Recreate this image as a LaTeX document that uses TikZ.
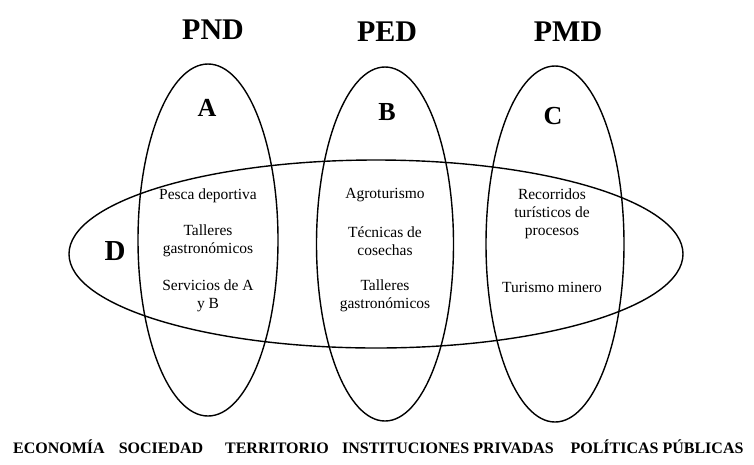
\documentclass[tikz,border=0pt]{standalone}
\usepackage{fontspec}
\setmainfont{Liberation Serif}
\usetikzlibrary{shapes.geometric}

\begin{document}
\begin{tikzpicture}[x=1pt, y=-1pt, line width=1.4pt]

% Styles
\tikzstyle{set} = [draw, ellipse, inner sep=0pt]
\tikzstyle{policy} = [font=\fontsize{30}{32}\selectfont\bfseries]
\tikzstyle{letter} = [font=\fontsize{26}{28}\selectfont\bfseries]
\tikzstyle{item} = [align=center, inner sep=0pt, font=\fontsize{15.5}{18}\selectfont]
\tikzstyle{axis} = [anchor=base, inner sep=0pt, font=\fontsize{16}{18}\selectfont\bfseries]

\useasboundingbox (0,0) rectangle (754,464);

% Sets
\node[set, minimum width=140pt, minimum height=352pt] (setA) at (208,240) {};
\node[set, minimum width=137pt, minimum height=354pt] (setB) at (385,244) {};
\node[set, minimum width=138pt, minimum height=356pt] (setC) at (555,244) {};
\node[set, minimum width=614pt, minimum height=188pt] (setD) at (376,254) {};

% Labels
\node[policy] (pnd) at (213,30) {PND};
\node[policy] (ped) at (387,32) {PED};
\node[policy] (pmd) at (568,32) {PMD};
\node[letter] (labA) at (207,108) {A};
\node[letter] (labB) at (387,112) {B};
\node[letter] (labC) at (553,116) {C};
\node[letter, font=\fontsize{29}{30}\selectfont\bfseries] (labD) at (115,251) {D};

% Items A
\node[item] (a1) at (208,196) {Pesca deportiva};
\node[item] (a2) at (208,241) {Talleres\\gastronómicos};
\node[item] (a3) at (208,296) {Servicios de A\\y B};

% Items B
\node[item] (b1) at (385,195) {Agroturismo};
\node[item] (b2) at (385,241) {Técnicas de\\cosechas};
\node[item] (b3) at (385,296) {Talleres\\gastronómicos};

% Items C
\node[item] (c1) at (552,214) {Recorridos\\turísticos de\\procesos};
\node[item] (c2) at (552,287) {Turismo minero};

% Axes
\node[axis] (eco) at (59,453) {ECONOMÍA};
\node[axis] (soc) at (161,453) {SOCIEDAD};
\node[axis] (ter) at (277,453) {TERRITORIO};
\node[axis] (ins) at (448,453) {INSTITUCIONES PRIVADAS};
\node[axis] (pol) at (657,453) {POLÍTICAS PÚBLICAS};

\end{tikzpicture}
\end{document}
